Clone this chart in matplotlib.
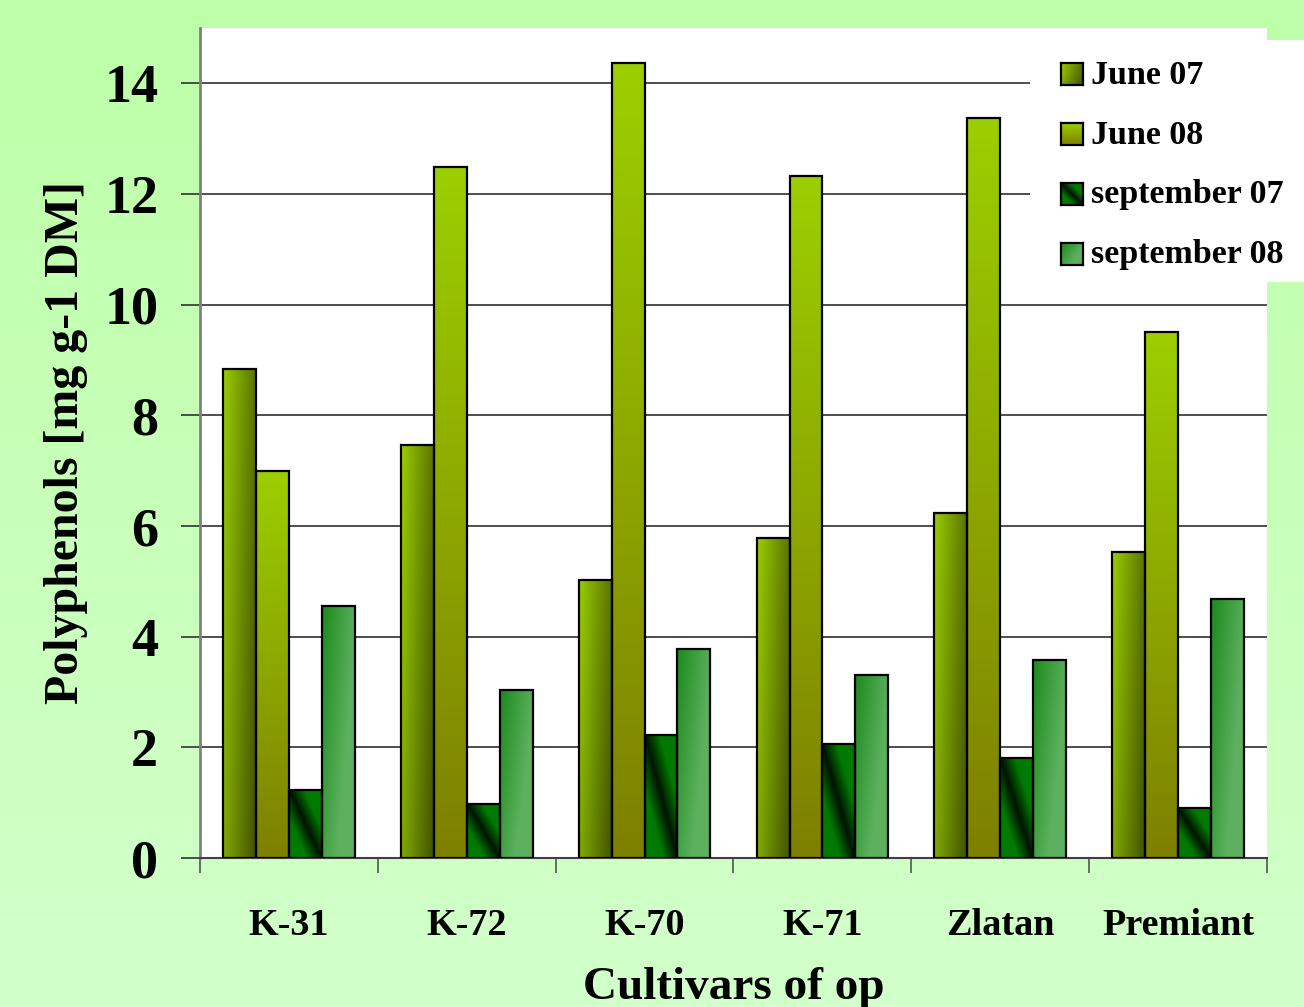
import numpy as np
import matplotlib.pyplot as plt
from matplotlib.colors import to_rgb
from matplotlib.patches import Rectangle

plt.rcParams['font.family'] = ['Liberation Serif', 'DejaVu Serif']
plt.rcParams['font.weight'] = 'bold'

cultivars = ['K-31', 'K-72', 'K-70', 'K-71', 'Zlatan', 'Premiant']
series = ['June 07', 'June 08', 'september 07', 'september 08']
june07 = [8.84, 7.47, 5.03, 5.79, 6.24, 5.53]
june08 = [7.00, 12.48, 14.36, 12.33, 13.38, 9.50]
sept07 = [1.23, 0.98, 2.22, 2.06, 1.81, 0.90]
sept08 = [4.56, 3.04, 3.78, 3.31, 3.58, 4.68]
yticks = [0, 2, 4, 6, 8, 10, 12, 14]

W, H = 1304, 1007


def lerp(c1, c2, t):
    a, b = np.array(to_rgb(c1)), np.array(to_rgb(c2))
    t = np.clip(t, 0, 1)[..., None]
    return a + (b - a) * t


# gradient fills, u = across the bar (0 left), v = up the bar (0 bottom)
def fill_june07(u, v):
    return lerp('#9acd00', '#475800', 0.75 * u + 0.3 * (1 - v))

def fill_june08(u, v):
    return lerp('#9ccf00', '#7e8000', 1 - v + 0 * u)

def fill_sept07(u, v):
    d = np.abs(u + v - 1)
    return lerp('#001400', '#007a00', d * 2.2)

def fill_sept08(u, v):
    return lerp('#1c8a1c', '#5cb05e', 0.9 * u + 0.6 * (1 - v))

fills = [fill_june07, fill_june08, fill_sept07, fill_sept08]
values = [june07, june08, sept07, sept08]

fig = plt.figure(figsize=(W / 100, H / 100), dpi=100)

# light green background, a bit paler toward the bottom
bg = fig.add_axes([0, 0, 1, 1], zorder=-10)
grad = np.linspace(0, 1, 256)[:, None] * np.ones((1, 2))
bg.imshow(lerp('#bdffa8', '#d2ffca', grad), extent=[0, 1, 0, 1],
          aspect='auto', origin='upper')
bg.set_xlim(0, 1)
bg.set_ylim(0, 1)
bg.axis('off')

ax = fig.add_axes([200 / W, 1 - 858 / H, (1267 - 200) / W, (858 - 28) / H])
ax.set_facecolor('white')

n = len(cultivars)
x = np.arange(n)
w = 0.185
uu, vv = np.meshgrid(np.linspace(0, 1, 40), np.linspace(0, 1, 120))

for k in range(4):
    for i in range(n):
        x0 = x[i] + (k - 2) * w
        h = values[k][i]
        rect = Rectangle((x0, 0), w, h, facecolor='none', edgecolor='black',
                         linewidth=1.6, zorder=4)
        ax.add_patch(rect)
        img = ax.imshow(fills[k](uu, vv), extent=[x0, x0 + w, 0, h],
                        origin='lower', aspect='auto', zorder=3,
                        interpolation='bilinear')
        img.set_clip_path(rect)

ax.set_xlim(-0.5, n - 0.5)
ax.set_ylim(0, 15)
ax.set_yticks(yticks)
ax.set_yticklabels([str(t) for t in yticks], fontsize=39, fontweight='bold')
ax.yaxis.grid(True, color='#404040', linewidth=1.3)
ax.set_axisbelow(True)

ax.set_xticks(x)
ax.set_xticklabels(cultivars, fontsize=27.5, fontweight='bold')
ax.set_xticks(np.arange(n + 1) - 0.5, minor=True)
ax.tick_params(axis='x', which='major', length=0, pad=36)
ax.tick_params(axis='x', which='minor', length=11, width=1.3, color='#606060')
ax.tick_params(axis='y', length=14, width=1.3, color='#404040', pad=16)

for s in ['top', 'right']:
    ax.spines[s].set_visible(False)
ax.spines['left'].set_color('#808080')
ax.spines['left'].set_linewidth(2)
ax.spines['bottom'].set_color('#404040')
ax.spines['bottom'].set_linewidth(1.5)

ax.set_ylabel('Polyphenols [mg g-1 DM]', fontsize=34.5, fontweight='bold', labelpad=12)
ax.set_xlabel('Cultivars of op', fontsize=34, fontweight='bold', labelpad=17)

# white legend panel over the top right corner
fig.patches.append(Rectangle((1030 / W, 1 - 282 / H), (W - 1030) / W, (282 - 40) / H,
                             transform=fig.transFigure, facecolor='white',
                             edgecolor='none', zorder=2))

# legend entries with the same gradient swatches as the bars
su, sv = np.meshgrid(np.linspace(0, 1, 30), np.linspace(0, 1, 30))
for k, name in enumerate(series):
    yc = 74 + 60 * k
    sw = fig.add_axes([1061 / W, 1 - (yc + 11) / H, 22 / W, 22 / H], zorder=3)
    sw.imshow(fills[k](su, sv), origin='lower', aspect='auto',
              extent=[0, 1, 0, 1], interpolation='bilinear')
    sw.set_xticks([])
    sw.set_yticks([])
    for s in sw.spines.values():
        s.set_linewidth(1.6)
        s.set_color('black')
    fig.text(1091 / W, 1 - (yc + 1) / H, name, fontsize=24.5, fontweight='bold',
             va='center', ha='left', zorder=3)

fig.savefig('out.png', dpi=100)
